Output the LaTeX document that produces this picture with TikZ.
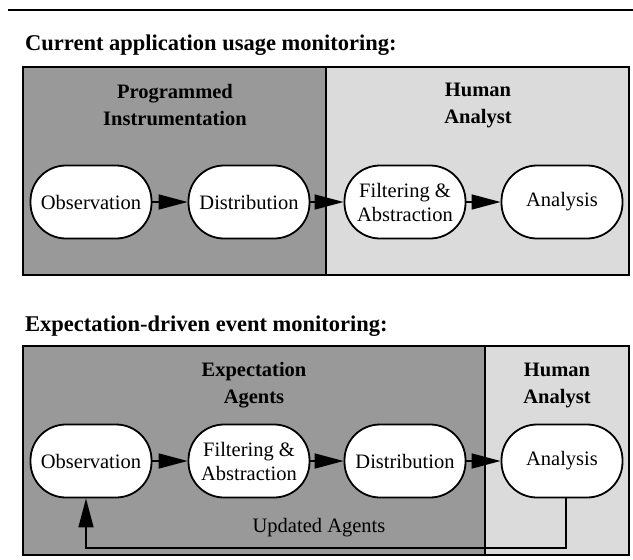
\documentclass[tikz,border=0pt]{standalone}
\usepackage{fontspec}
\setmainfont{Liberation Serif}
\usetikzlibrary{arrows.meta}
\definecolor{agentgray}{gray}{0.60}
\definecolor{analystgray}{gray}{0.86}
\begin{document}
\begin{tikzpicture}[x=1pt,y=-1pt,
  panel/.style={draw=black, line width=1.4pt},
  stage/.style={draw=black, fill=white, line width=1.8pt, rounded corners=35.5pt,
    minimum width=121pt, minimum height=73pt, inner sep=0pt, align=center,
    font=\fontsize{20.5}{24}\selectfont},
  flow/.style={line width=1.6pt, -{Triangle[length=29pt,width=15pt]}},
  heading/.style={font=\bfseries\fontsize{22.5}{27}\selectfont, anchor=base west, inner sep=0pt},
  role/.style={font=\bfseries\fontsize{20.5}{27}\selectfont, align=center, inner sep=0pt},
  plain/.style={font=\fontsize{20.5}{24}\selectfont, inner sep=0pt},
]
\useasboundingbox (0,0) rectangle (633,560);
\fill[white] (0,0) rectangle (633,560);
\draw[line width=1.4pt] (8,10) -- (633,10);

% ---------- current application usage monitoring ----------
\node[heading] (title1) at (25,50) {Current application usage monitoring:};
\fill[agentgray] (23,67) rectangle (326,275);
\fill[analystgray] (326,67) rectangle (629,275);
\draw[panel] (23,67) rectangle (629,275);
\draw[panel] (326,67) -- (326,275);
\node[role] (prog) at (175,105) {Programmed\\Instrumentation};
\node[role] (human1) at (478,105) {Human\\Analyst};

\node[stage] (obs1)  at (91,202)  {Observation};
\node[stage] (dist1) at (249,202) {Distribution};
\node[stage] (filt1) at (405,202) {Filtering \&\\Abstraction};
\node[stage] (anal1) at (562,202) {Analysis};
\draw[flow] (obs1) -- (dist1);
\draw[flow] (dist1) -- (filt1);
\draw[flow] (filt1) -- (anal1);

% ---------- expectation-driven event monitoring ----------
\node[heading] (title2) at (25,331) {Expectation-driven event monitoring:};
\fill[agentgray] (23,346) rectangle (485,555);
\fill[analystgray] (485,346) rectangle (629,555);
\draw[panel] (23,346) rectangle (629,555);
\draw[panel] (485,346) -- (485,555);
\node[role] (agents) at (254,385) {Expectation\\Agents};
\node[role] (human2) at (557,385) {Human\\Analyst};

\node[stage] (obs2)  at (91,461)  {Observation};
\node[stage] (filt2) at (249,461) {Filtering \&\\Abstraction};
\node[stage] (dist2) at (405,461) {Distribution};
\node[stage] (anal2) at (562,461) {Analysis};
\draw[flow] (obs2) -- (filt2);
\draw[flow] (filt2) -- (dist2);
\draw[flow] (dist2) -- (anal2);

% feedback loop back to the observation stage
\coordinate (fbright) at (566,548);
\coordinate (fbleft) at (86,548);
\draw[flow] (fbright |- anal2.south) -- (fbright) -- (fbleft) -- (fbleft |- obs2.south);
\node[plain] (upd) at (319,528) {Updated Agents};
\end{tikzpicture}
\end{document}
